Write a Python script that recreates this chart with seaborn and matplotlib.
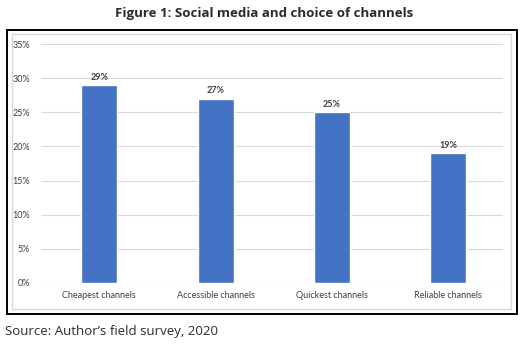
import matplotlib
matplotlib.use('Agg')
from matplotlib import pyplot as plt
from matplotlib.patches import Rectangle
import pandas as pd
import seaborn as sns

# Data
categories = ['Cheapest channels', 'Accessible channels', 'Quickest channels', 'Reliable channels']
shares = [29, 27, 25, 19]
y_ticks = [0, 5, 10, 15, 20, 25, 30, 35]

df = pd.DataFrame({'channel': categories, 'share': shares})

sns.set_style('white')
plt.rcParams['font.family'] = ['Lato', 'DejaVu Sans']

W, H = 529, 344
fig = plt.figure(figsize=(W / 100, H / 100), dpi=100)
fig.patch.set_facecolor('white')

# frames around the chart
fig.patches.append(Rectangle((7 / W, 1 - 314 / H), 510 / W, 284 / H, transform=fig.transFigure,
                             fill=False, edgecolor='black', linewidth=1.4))
fig.patches.append(Rectangle((12 / W, 1 - 309 / H), 499 / W, 275 / H, transform=fig.transFigure,
                             fill=False, edgecolor='#d9d9d9', linewidth=1.0))

ax = fig.add_axes([41 / W, 1 - 283 / H, 462 / W, 239 / H])
sns.barplot(data=df, x='channel', y='share', color='#4472c4', width=0.31, saturation=1, ax=ax)

ax.set_xlim(-0.5, 3.47)
ax.set_ylim(0, 35)
ax.set_yticks(y_ticks)
ax.set_yticklabels([f'{t}%' for t in y_ticks], fontsize=6.5, color='#404040')
ax.tick_params(axis='x', labelsize=6.5, colors='#404040', length=0, pad=6)
ax.tick_params(axis='y', length=0, pad=8)
ax.yaxis.grid(True, color='#d9d9d9', linewidth=0.8)
ax.set_axisbelow(True)
for s in ['top', 'right', 'left', 'bottom']:
    ax.spines[s].set_visible(False)
ax.set_xlabel('')
ax.set_ylabel('')

for i, v in enumerate(shares):
    ax.text(i, v + 0.5, f'{v}%', ha='center', va='bottom', fontsize=6.5, fontweight='bold', color='#404040')

fig.text(0.5, 1 - 13 / H, 'Figure 1: Social media and choice of channels', ha='center', va='center',
         fontsize=9.5, fontweight='bold', color='#2b2b2b', family=['Open Sans', 'DejaVu Sans'])
fig.text(5 / W, 1 - 331 / H, 'Source: Author\u2019s field survey, 2020', ha='left', va='center',
         fontsize=9.5, color='#2b2b2b', family=['Open Sans', 'DejaVu Sans'])

fig.savefig('out.png', dpi=100)
